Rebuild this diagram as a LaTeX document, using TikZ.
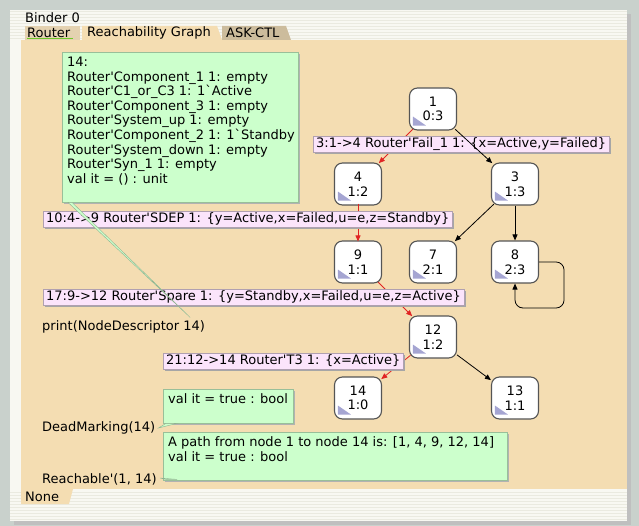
\documentclass[tikz,border=0pt]{standalone}
\usepackage{fontspec}
\setmainfont{DejaVu Sans}[Ligatures=TeXOff]
\usepackage{tikz}
\usetikzlibrary{arrows.meta, calc, shadows}

\definecolor{deskgray}{RGB}{201,209,204}
\definecolor{panewhite}{RGB}{248,248,242}
\definecolor{stripe}{RGB}{234,234,224}
\definecolor{binderbeige}{RGB}{244,221,178}
\definecolor{tabdark}{RGB}{204,188,156}
\definecolor{tabmid}{RGB}{228,210,176}
\definecolor{notegreen}{RGB}{204,255,204}
\definecolor{labelpink}{RGB}{251,228,251}
\definecolor{nodeframe}{RGB}{85,85,85}
\definecolor{markblue}{RGB}{165,165,210}
\definecolor{pathred}{RGB}{225,35,35}
\definecolor{tabgreen}{RGB}{110,200,40}

% top-aligned note text, lines never wrap
\newcommand{\notepar}[3]{\parbox[c][#2][t]{#1}{\begin{tabular}[t]{@{}l@{}}#3\end{tabular}}}

\begin{document}
\begin{tikzpicture}[x=1pt, y=-1pt, font=\fontsize{13}{14.6}\selectfont,
  rgnode/.style={draw=nodeframe, fill=white, line width=1.1pt, rounded corners=8pt,
    minimum width=47pt, minimum height=42pt, align=center, inner sep=0pt},
  arclabel/.style={anchor=west, fill=labelpink, draw=labelpink!70!black, line width=0.4pt,
    minimum height=16pt, inner xsep=3pt, inner ysep=0pt,
    drop shadow={shadow xshift=2pt, shadow yshift=-2pt, fill=black!35, opacity=1}},
  notebox/.style={anchor=north west, fill=notegreen, draw=notegreen!75!black, line width=0.4pt,
    inner xsep=5pt, inner ysep=4pt,
    drop shadow={shadow xshift=2pt, shadow yshift=-2pt, fill=black!30, opacity=1}},
  cmd/.style={anchor=west, inner sep=0pt},
  redarc/.style={draw=pathred, line width=0.8pt, shorten <=-2pt, shorten >=-1pt,
    -{Triangle[length=6pt,width=5pt]}},
  blackarc/.style={draw=black, line width=0.8pt, shorten <=-2pt, shorten >=-1pt,
    -{Triangle[length=6pt,width=5pt]}},
]
  % window and binder
  \fill[deskgray] (0,0) rectangle (639,526);
  \fill[black!25] (14,14) rectangle (631,525);
  \fill[panewhite] (10,10) rectangle (627,521);
  \foreach \y in {12,15,...,39}
    \draw[stripe, line width=1pt] (10,\y) -- (627,\y);
  \foreach \y in {492,495,...,519}
    \draw[stripe, line width=1pt] (10,\y) -- (627,\y);
  \fill[binderbeige] (21,40) rectangle (627,489);
  \node[cmd] (binder) at (25,18) {Binder 0};

  % tabs
  \fill[tabmid] (25,26) rectangle (80,40);
  \fill[binderbeige] (82,40) -- (82,26) -- (217,26) -- (222,40) -- cycle;
  \fill[tabdark] (222,40) -- (222,26) -- (286,26) -- (291,40) -- cycle;
  \node[cmd] (tabrouter) at (27,33) {Router};
  \node[cmd] (tabgraph) at (87,33) {Reachability Graph};
  \node[cmd] (tabctl) at (226,33) {ASK-CTL};
  \draw[tabgreen, line width=1.6pt] (27,38.5) -- (73,38.5);
  \fill[binderbeige] (21,489) -- (73,489) -- (69,504) -- (21,504) -- cycle;
  \node[cmd] (tabnone) at (25,497) {None};

  % reachability graph nodes
  \foreach \k/\x/\y/\m in {1/433/109/0:3, 4/358/184/1:2, 3/515/184/1:3,
                           9/358/262/1:1, 7/433/262/2:1, 8/515/262/2:3,
                           12/433/337/1:2, 14/358/398/1:0, 13/515/398/1:1}
    \node[rgnode] (n\k) at (\x,\y) {\k\\\m};
  \foreach \k in {1,4,3,9,7,8,12,14,13}
    \fill[markblue] ($(n\k.south west)+(4,-5)$) -- ++(13,0) -- ++(-13,-9) -- cycle;

  % path 1 -> 14 in red, behind the arc labels
  \draw[redarc] (n1) -- (n4);
  \draw[redarc] (n4) -- (n9);
  \draw[redarc] (n9) -- (n12);
  \draw[redarc] (n12) -- (n14);

  \node[arclabel] (lbl3) at (313,144) {3:1->4 Router'Fail\_1 1: \{x=Active,y=Failed\}};
  \node[arclabel] (lbl10) at (43,219) {10:4->9 Router'SDEP 1: \{y=Active,x=Failed,u=e,z=Standby\}};
  \node[arclabel] (lbl17) at (43,297) {17:9->12 Router'Spare 1: \{y=Standby,x=Failed,u=e,z=Active\}};
  \node[arclabel] (lbl21) at (163,361) {21:12->14 Router'T3 1: \{x=Active\}};

  \draw[blackarc] (n1) -- (n3);
  \draw[blackarc] (n3) -- (n7);
  \draw[blackarc, shorten <=0pt, shorten >=0pt] (n3) -- (n8);
  \draw[blackarc, shorten <=0pt, shorten >=0pt] (n12) -- (n13);
  \draw[blackarc, rounded corners=8pt, shorten <=0pt, shorten >=0pt]
    (n8.east) -- ++(25,0) -- ++(0,46) -| (n8.south);

  % ASK-CTL queries and answers
  \node[cmd] (printcmd) at (42,327) {print(NodeDescriptor 14)};
  \node[cmd] (deadcmd) at (42,428) {DeadMarking(14)};
  \node[cmd] (reachcmd) at (42,479) {Reachable'(1, 14)};

  \node[notebox] (nodedesc) at (62,52) {\notepar{226pt}{142pt}{14:\\
    Router'Component\_1 1: empty\\
    Router'C1\_or\_C3 1: 1`Active\\
    Router'Component\_3 1: empty\\
    Router'System\_up 1: empty\\
    Router'Component\_2 1: 1`Standby\\
    Router'System\_down 1: empty\\
    Router'Syn\_1 1: empty\\
    val it = () : unit}};
  \node[notebox] (deadnote) at (163,389) {\notepar{120pt}{26pt}{val it = true : bool}};
  \node[notebox] (pathnote) at (163,432) {\notepar{334pt}{40pt}{A path from node 1 to node 14 is: [1, 4, 9, 12, 14]\\
    val it = true : bool}};

  \fill[notegreen, draw=notegreen!70!black, line width=0.4pt]
    ($(nodedesc.south west)+(6,0)$) -- ($(nodedesc.south west)+(10,0)$)
    -- ($(printcmd.north east)+(-15,-3)$) -- cycle;
  \fill[notegreen, draw=notegreen!70!black, line width=0.4pt]
    ($(deadnote.south west)+(3,0)$) -- ($(deadnote.south west)+(14,0)$)
    -- ($(deadcmd.east)+(3,0)$) -- cycle;
  \fill[notegreen, draw=notegreen!70!black, line width=0.4pt]
    ($(pathnote.south west)+(3,-1)$) -- ($(pathnote.south west)+(14,-1)$)
    -- ($(reachcmd.east)+(3,-1)$) -- cycle;
\end{tikzpicture}
\end{document}
